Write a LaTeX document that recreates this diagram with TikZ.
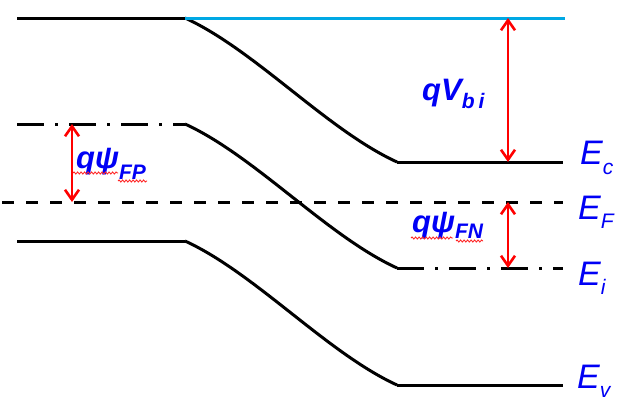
\documentclass[tikz,border=0pt]{standalone}
\usepackage{fontspec}
\setmainfont{Liberation Sans}
\usetikzlibrary{arrows.meta,decorations.pathmorphing}
\definecolor{topblue}{RGB}{0,168,228}
\definecolor{lblblue}{RGB}{0,0,245}
\newcommand{\sbs}[2][-9pt]{\raisebox{#1}{\fontsize{21}{21}\selectfont #2}}

\begin{document}
\begin{tikzpicture}[x=1pt,y=-1pt,
    band/.style={line width=3pt,black},
    efermi/.style={band,dash pattern=on 12pt off 12pt},
    eintr/.style={band,dash pattern=on 27pt off 11pt on 3pt off 11pt},
    gap/.style={red,line width=2.6pt,{Straight Barb[length=10pt,width=14pt]}-{Straight Barb[length=10pt,width=14pt]}},
    lvl/.style={text=lblblue,font=\fontsize{34}{34}\selectfont\itshape,anchor=base west,inner sep=0pt},
    qlbl/.style={text=lblblue,font=\fontsize{31}{31}\selectfont\bfseries\itshape,anchor=base west,inner sep=0pt},
    spell/.style={red!85,line width=0.9pt,decorate,decoration={snake,amplitude=1pt,segment length=3.5pt}}]
  \useasboundingbox (0,0) rectangle (627,407);
  \foreach \n/\y in {c/18,i/124,v/241}{
    \coordinate (\n L) at (17,\y);
    \coordinate (\n M) at (185,\y);
    \coordinate (\n R) at (397,\y+144);
    \coordinate (\n E) at (563,\y+144);
  }
  \coordinate (cB) at (565,18);
  \coordinate (fL) at (2,202);
  \coordinate (fE) at (563,202);
  \foreach \n in {c,i,v}
    \draw[band] (\n M) .. controls +(70,32) and +(-70,-32) .. (\n R);
  \draw[band] (cL) -- (cM);
  \draw[band,topblue] (cM) -- (cB);
  \draw[band] (cR) -- (cE);
  \draw[eintr] (iL) -- (iM);
  \draw[eintr] (iR) -- (iE);
  \draw[band] (vL) -- (vM);
  \draw[band] (vR) -- (vE);
  \draw[efermi] (fL) -- (fE);
  % arrows
  \coordinate (vbT) at (508,18);
  \coordinate (vbB) at (508,162);
  \coordinate (fpT) at (72,124);
  \coordinate (fpB) at (72,202);
  \coordinate (fnT) at (508,202);
  \coordinate (fnB) at (508,268);
  \draw[gap] (vbT) -- (vbB);
  \draw[gap] (fpT) -- (fpB);
  \draw[gap] (fnT) -- (fnB);
  % labels
  \node[lvl] (Ec) at (580,164) {E\sbs[-10pt]{c}};
  \node[lvl] (EF) at (578,219) {E\sbs{F}};
  \node[lvl] (Ei) at (578,285) {E\sbs{i}};
  \node[lvl] (Ev) at (577,388) {E\sbs{v}};
  \node[qlbl] (qvbi) at (422,100) {qV\sbs[-8pt]{b\hspace{4pt}i}};
  \node[qlbl] (qpfp) at (76,168) {qψ\sbs[-11pt]{FP}};
  \node[qlbl] (qpfn) at (412,232) {qψ\sbs[-6pt]{FN}};
  \draw[spell] ([shift={(-3,5)}]qpfp.base west) -- +(45,0);
  \draw[spell] ([shift={(42,13)}]qpfp.base west) -- +(29,0);
  \draw[spell] ([shift={(-1,6)}]qpfn.base west) -- +(42,0);
  \draw[spell] ([shift={(44,9)}]qpfn.base west) -- +(27,0);
\end{tikzpicture}
\end{document}
